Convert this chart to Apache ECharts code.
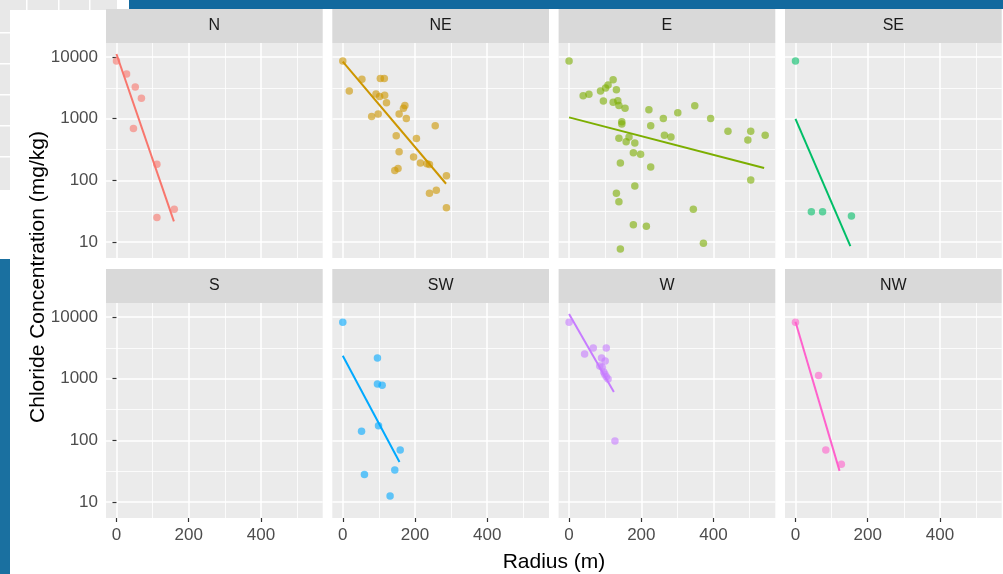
<!DOCTYPE html>
<html>
<head>
<meta charset="utf-8">
<script src="https://cdn.jsdelivr.net/npm/echarts@6.0.0/dist/echarts.min.js"></script>
<style>
  html, body { margin: 0; padding: 0; background: #fff; }
  #chart { width: 1003px; height: 574px; }
</style>
</head>
<body>
<div id="chart"></div>
<script>
const facets = ['N', 'NE', 'E', 'SE', 'S', 'SW', 'W', 'NW']
const facetColors = ['#F8766D', '#CD9600', '#7CAE00', '#00BE67', '#00BFC4', '#00A9FF', '#C77CFF', '#FF61CC']
const xTicks = [0, 200, 400]
const xMinorLines = [100, 300, 500]
const yTicks = [10, 100, 1000, 10000]
const yMinorLines = [31.62, 316.2, 3162]

// samples per direction
const radiusN = [0, 28, 52, 69, 47, 112, 112, 160]
const chlorideN = [8600, 5300, 3270, 2140, 690, 182, 25, 34]

const radiusNE = [0, 18, 53, 104, 115, 92, 102, 116, 121, 98, 80, 156, 168, 172, 176, 256, 148, 204, 156, 196, 215, 233, 240, 287, 144, 153, 240, 259, 287]
const chlorideNE = [8600, 2800, 4340, 4500, 4500, 2510, 2280, 2390, 1815, 1190, 1080, 1190, 1470, 1640, 1010, 770, 530, 478, 292, 239, 191, 186, 180, 119, 145, 155, 62, 69, 36]

const radiusE = [0, 39, 55, 87, 101, 108, 122, 131, 95, 122, 135, 138, 155, 146, 146, 221, 226, 261, 301, 348, 392, 440, 503, 543, 495, 264, 282, 138, 158, 166, 182, 178, 198, 142, 226, 503, 182, 131, 138, 344, 178, 214, 372, 142]
const chlorideE = [8600, 2360, 2480, 2810, 3140, 3510, 4290, 2950, 1930, 1840, 1960, 1640, 1470, 893, 820, 1400, 770, 1010, 1250, 1625, 1010, 624, 624, 537, 451, 537, 505, 480, 424, 505, 403, 281, 264, 191, 164, 101, 81, 62, 45, 34, 19, 18, 9.5, 7.7]

const radiusSE = [0, 44, 75, 155]
const chlorideSE = [8600, 31, 31, 26.4]

const radiusS = []
const chlorideS = []

const radiusSW = [0, 96, 96, 109, 99, 52, 159, 144, 60, 131]
const chlorideSW = [8200, 2160, 820, 780, 173, 140, 70, 33, 28, 12.5]

const radiusW = [0, 43, 67, 103, 90, 100, 85, 92, 96, 99, 103, 108, 127]
const chlorideW = [8200, 2510, 3140, 3140, 2160, 1930, 1600, 1530, 1280, 1175, 1075, 990, 97.5]

const radiusNW = [0, 64, 84, 127]
const chlorideNW = [8200, 1130, 70, 41]

// ends of the fitted line in each panel
const fitRadius = [[0, 159], [0, 286], [0, 540], [0, 152], [], [0, 157], [0, 124], [0, 122]]
const fitChloride = [[11200, 21.6], [8400, 88], [1050, 158], [990, 8.6], [], [2350, 44.6], [11200, 608], [8400, 32]]

const radiusByFacet = [radiusN, radiusNE, radiusE, radiusSE, radiusS, radiusSW, radiusW, radiusNW]
const chlorideByFacet = [chlorideN, chlorideNE, chlorideE, chlorideSE, chlorideS, chlorideSW, chlorideW, chlorideNW]

let colLeft = [106, 332.3, 558.6, 785]
let rowTop = [43, 303]
let panelW = 216.7
let panelH = 215
let stripH = 34

let grids = [], xAxes = [], yAxes = [], series = []
let graphics = [
    // slide bits showing around the picture
    { type: 'rect', shape: { x: 0, y: 0, width: 117, height: 190 }, style: { fill: '#E8E8E8' }, z: -20 },
    { type: 'rect', shape: { x: 10, y: 10, width: 993, height: 564 }, style: { fill: '#ffffff' }, z: -10 },
    { type: 'rect', shape: { x: 129, y: 0, width: 874, height: 9 }, style: { fill: '#12699E' }, z: -10 },
    { type: 'rect', shape: { x: 0, y: 259, width: 10, height: 315 }, style: { fill: '#1A70A0' }, z: -10 },
    {
        type: 'text', x: 554, y: 562,
        style: { text: 'Radius (m)', fontSize: 21, fontFamily: 'Liberation Sans', fill: '#000', align: 'center', verticalAlign: 'middle' }
    },
    {
        type: 'text', x: 38, y: 277, rotation: Math.PI / 2,
        style: { text: 'Chloride Concentration (mg/kg)', fontSize: 21, fontFamily: 'Liberation Sans', fill: '#000', align: 'center', verticalAlign: 'middle' }
    }
]
// table lines of the slide behind
;[26, 58, 89].forEach(x => graphics.push({ type: 'rect', shape: { x: x, y: 0, width: 1.5, height: 190 }, style: { fill: '#fff' }, z: -15 }))
;[32, 63, 94, 125, 156].forEach(y => graphics.push({ type: 'rect', shape: { x: 0, y: y, width: 117, height: 1.5 }, style: { fill: '#fff' }, z: -15 }))

facets.forEach((name, i) => {
    let r = Math.floor(i / 4), c = i % 4
    let left = colLeft[c], top = rowTop[r]
    let bottomRow = r === 1, leftCol = c === 0
    grids.push({ left: left, top: top, width: panelW, height: panelH, show: true, backgroundColor: '#EBEBEB', borderWidth: 0 })

    graphics.push({ type: 'rect', shape: { x: left, y: top - stripH, width: panelW, height: stripH }, style: { fill: '#D9D9D9' } })
    graphics.push({
        type: 'text', x: left + panelW / 2, y: top - stripH / 2,
        style: { text: name, fontSize: 16, fontFamily: 'Liberation Sans', fill: '#1A1A1A', align: 'center', verticalAlign: 'middle' }
    })

    // major axis
    xAxes.push({
        type: 'value', gridIndex: i, min: -29, max: 571,
        axisLine: { show: false },
        axisTick: { show: bottomRow, customValues: xTicks, length: 4, lineStyle: { color: '#333', width: 1.2 } },
        axisLabel: { show: bottomRow, customValues: xTicks, margin: 9, fontSize: 17, fontFamily: 'Liberation Sans', color: '#4D4D4D', formatter: v => String(v) },
        splitLine: { show: true, lineStyle: { color: '#fff', width: 1.5 } }
    })
    // minor grid
    xAxes.push({
        type: 'value', gridIndex: i, min: -29, max: 571,
        axisLine: { show: false },
        axisTick: { show: false, customValues: xMinorLines },
        axisLabel: { show: false },
        splitLine: { show: true, lineStyle: { color: '#fff', width: 0.8 } }
    })
    yAxes.push({
        type: 'log', logBase: 10, gridIndex: i, min: 5.5, max: 16870,
        axisLine: { show: false },
        axisTick: { show: leftCol, customValues: yTicks, length: 4, lineStyle: { color: '#333', width: 1.2 } },
        axisLabel: { show: leftCol, customValues: yTicks, margin: 8, fontSize: 17, fontFamily: 'Liberation Sans', color: '#4D4D4D', formatter: v => String(Math.round(v)) },
        splitLine: { show: true, lineStyle: { color: '#fff', width: 1.5 } }
    })
    yAxes.push({
        type: 'log', logBase: 10, gridIndex: i, min: 5.5, max: 16870, position: 'left',
        axisLine: { show: false },
        axisTick: { show: false, customValues: yMinorLines },
        axisLabel: { show: false },
        splitLine: { show: true, lineStyle: { color: '#fff', width: 0.8 } }
    })

    let pts = radiusByFacet[i].map((x, k) => [x, chlorideByFacet[i][k]])
    if (pts.length) {
        series.push({
            type: 'scatter', name: name, xAxisIndex: 2 * i, yAxisIndex: 2 * i,
            data: pts, symbolSize: 7.5,
            itemStyle: { color: facetColors[i], opacity: 0.6 },
            z: 3
        })
        series.push({
            type: 'line', name: name + ' fit', xAxisIndex: 2 * i, yAxisIndex: 2 * i,
            data: fitRadius[i].map((x, k) => [x, fitChloride[i][k]]),
            showSymbol: false, lineStyle: { color: facetColors[i], width: 2 },
            z: 4
        })
    }
})

let myChart = echarts.init(document.getElementById('chart'), null, { renderer: 'canvas' })
myChart.setOption({
    animation: false,
    backgroundColor: '#fff',
    grid: grids,
    xAxis: xAxes,
    yAxis: yAxes,
    series: series,
    graphic: graphics
})
</script>
</body>
</html>
